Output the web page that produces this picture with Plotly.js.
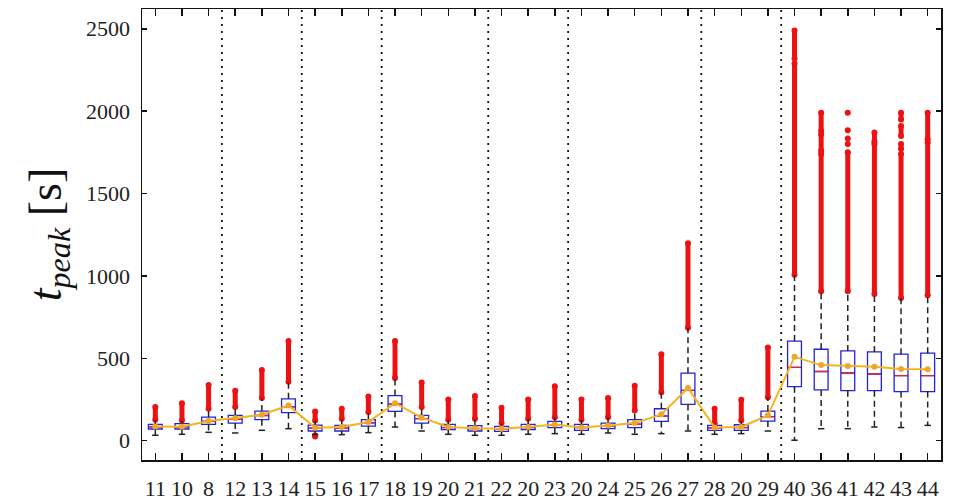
<!DOCTYPE html>
<html>
<head>
<meta charset="utf-8">
<script src="https://cdn.plot.ly/plotly-3.0.1.min.js"></script>
<style>html,body{margin:0;padding:0;background:#fff;}#chart{width:960px;height:502px;}</style>
</head>
<body>
<div id="chart"></div>
<script>
// ---- data ----
const labels = ["11","10","8","12","13","14","15","16","17","18","19","20","21","22","20","23","20","24","25","26","27","28","20","29","40","36","41","42","43","44"];
const groupSizes = [3,3,3,4,3,5,3,6];
const q1     = [71,71,99,107,128,170,59,59,89,178,107,67,59,57,67,79,63,73,80,117,220,63,63,119,328,308,304,304,298,298];
const median = [84,84,118,130,153,205,76,76,108,222,134,80,74,72,80,96,80,90,101,150,305,78,80,146,445,420,411,405,395,395];
const q3     = [99,104,143,154,180,254,95,93,128,274,154,99,92,87,99,117,99,107,128,194,410,93,97,180,605,555,545,539,525,531];
const means  = [87,85,119,137,158,214,79,83,113,228,140,83,75,73,83,99,80,92,107,160,320,80,83,154,509,459,453,449,435,433];
const whiskLo = [33,39,51,47,63,73,38,37,49,83,59,39,33,33,39,43,39,47,39,43,59,39,43,59,3,73,73,83,80,93];
const whiskHi = [126,121,192,202,258,356,121,132,172,379,202,126,132,105,132,141,126,141,182,292,684,102,121,262,1005,905,905,888,864,881];
// outlier runs (category index, low, high)
const outCat  = [0,1,2,3,4,5,6,6,7,8,9,10,11,12,13,14,15,16,17,18,19,20,21,22,23,24,24,25,25,25,26,27,27,28,28,28,28,29,29];
const outLow  = [128,123,194,204,260,358,123,25,134,174,381,204,128,134,107,134,143,128,143,184,294,686,104,123,264,1007,2320,907,1760,1880,907,890,1815,866,1770,1850,1950,883,1830];
const outHigh = [205,228,338,304,429,605,178,32,194,268,605,354,250,272,200,250,330,250,260,334,525,1198,194,248,565,2290,2489,1740,1860,1991,1750,1800,1870,1740,1800,1910,1991,1810,1991];
// isolated outlier points
const ptCat = [26,26,26,26];
const ptVal = [1800,1834,1884,1991];

// ---- build traces ----
const idx = labels.map((_, i) => i);
const boxHalf = 0.26, capHalf = 0.12;

const traces = [];

// boxes (no whiskers; whiskers drawn dashed separately)
traces.push({
  type: 'box', x: idx, q1: q1, median: median, q3: q3,
  lowerfence: q1, upperfence: q3, width: boxHalf * 2,
  line: {color: '#2222dd', width: 1.3}, fillcolor: 'rgba(255,255,255,0)',
  whiskerwidth: 0, boxpoints: false, hoverinfo: 'skip', showlegend: false
});

// outlier runs
const ox = [], oy = [];
outCat.forEach((c, k) => { ox.push(c, c, null); oy.push(outLow[k], outHigh[k], null); });
traces.push({
  type: 'scatter', mode: 'lines+markers', x: ox, y: oy,
  line: {color: '#ee1111', width: 5}, marker: {color: '#ee1111', size: 6},
  hoverinfo: 'skip', showlegend: false
});
traces.push({
  type: 'scatter', mode: 'markers', x: ptCat, y: ptVal,
  marker: {color: '#ee1111', size: 6}, hoverinfo: 'skip', showlegend: false
});

// whiskers (dashed)
const wx = [], wy = [];
idx.forEach(i => {
  wx.push(i, i, null, i, i, null);
  wy.push(q1[i], whiskLo[i], null, q3[i], whiskHi[i], null);
});
traces.push({
  type: 'scatter', mode: 'lines', x: wx, y: wy,
  line: {color: '#222', width: 1.5, dash: '6px,4px'}, hoverinfo: 'skip', showlegend: false
});
// lower caps
const cx = [], cy = [];
idx.forEach(i => { cx.push(i - capHalf, i + capHalf, null); cy.push(whiskLo[i], whiskLo[i], null); });
traces.push({
  type: 'scatter', mode: 'lines', x: cx, y: cy,
  line: {color: '#222', width: 1.5}, hoverinfo: 'skip', showlegend: false
});

// medians (red)
const mx = [], my = [];
idx.forEach(i => { mx.push(i - boxHalf + 0.03, i + boxHalf - 0.03, null); my.push(median[i], median[i], null); });
traces.push({
  type: 'scatter', mode: 'lines', x: mx, y: my,
  line: {color: '#ee2222', width: 1.3}, hoverinfo: 'skip', showlegend: false
});

// mean line
traces.push({
  type: 'scatter', mode: 'lines+markers', x: idx, y: means,
  line: {color: '#f2b51c', width: 2}, marker: {color: '#f0a62a', size: 6},
  hoverinfo: 'skip', showlegend: false
});

// group separators
const shapes = [];
let cum = 0;
groupSizes.slice(0, -1).forEach(g => {
  cum += g;
  shapes.push({type: 'line', xref: 'x', yref: 'paper', x0: cum - 0.5, x1: cum - 0.5, y0: 0, y1: 1,
    line: {color: '#111', width: 1.8, dash: '2px,5px'}, layer: 'below'});
});

const font = {family: 'Liberation Serif, serif', size: 22, color: '#222'};
const layout = {
  width: 960, height: 502,
  margin: {l: 142, r: 19, t: 9, b: 42},
  paper_bgcolor: '#fff', plot_bgcolor: '#fff',
  font: font, showlegend: false, shapes: shapes,
  xaxis: {
    range: [-0.5, 29.5], tickvals: idx, ticktext: labels,
    ticks: 'inside', ticklen: 7, tickwidth: 1.5, tickcolor: '#111',
    showline: true, linecolor: '#111', linewidth: 1.5, mirror: 'ticks',
    showgrid: false, zeroline: false, ticklabelstandoff: 8,
    tickfont: font
  },
  yaxis: {
    range: [-117, 2620], tickvals: [0, 500, 1000, 1500, 2000, 2500],
    ticks: 'inside', ticklen: 5, tickwidth: 1.5, tickcolor: '#111',
    showline: true, linecolor: '#111', linewidth: 1.5, mirror: 'ticks',
    showgrid: false, zeroline: false, ticklabelstandoff: 6,
    tickfont: font,
    title: {text: '<i>t</i><sub><i>peak</i></sub> [s]', font: {family: 'Liberation Serif, serif', size: 46, color: '#111'}, standoff: 10}
  }
};

Plotly.newPlot('chart', traces, layout, {staticPlot: true, displayModeBar: false});
</script>
</body>
</html>
